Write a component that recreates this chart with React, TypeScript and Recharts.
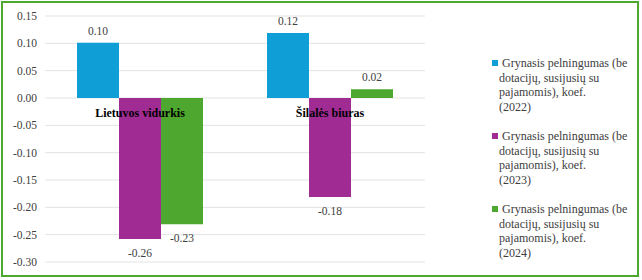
import { Bar, BarChart, CartesianGrid, LabelList, Legend, ReferenceDot, XAxis, YAxis } from 'recharts';

const categories = ['Lietuvos vidurkis', 'Šilalės biuras'];
const values2022 = [0.101, 0.119];
const values2023 = [-0.258, -0.181];
const values2024 = [-0.231, 0.016];
const seriesNames = [
  'Grynasis pelningumas (be dotacijų, susijusių su pajamomis), koef.\n(2022)',
  'Grynasis pelningumas (be dotacijų, susijusių su pajamomis), koef.\n(2023)',
  'Grynasis pelningumas (be dotacijų, susijusių su pajamomis), koef.\n(2024)',
];
const yTicks = [-0.3, -0.25, -0.2, -0.15, -0.1, -0.05, 0, 0.05, 0.1, 0.15];

const COLORS = ['#0F9ED5', '#A02B93', '#4EA72E'];
const FONT = '"Liberation Serif", "Times New Roman", serif';
const TEXT = '#404040';

const data = categories.map((name, i) => ({
  name,
  s2022: values2022[i],
  s2023: values2023[i],
  s2024: values2024[i],
}));

function ValueLabel(props: any) {
  const { x, y, width, height, value } = props;
  const top = Math.min(y, y + height);
  const bottom = Math.max(y, y + height);
  const ty = value >= 0 ? top - 12 : bottom + 14;
  return (
    <text
      x={x + width / 2}
      y={ty}
      textAnchor="middle"
      dominantBaseline="central"
      fontFamily={FONT}
      fontSize={11.5}
      fill={TEXT}
    >
      {Number(value).toFixed(2)}
    </text>
  );
}

function CategoryLabel(props: any) {
  const { viewBox, value } = props;
  return (
    <text
      x={viewBox.x + viewBox.width / 2}
      y={viewBox.y + viewBox.height / 2 + 15}
      textAnchor="middle"
      dominantBaseline="central"
      fontFamily={FONT}
      fontSize={12}
      fontWeight="bold"
      fill="#000"
    >
      {value}
    </text>
  );
}

function LegendContent() {
  return (
    <div style={{ fontFamily: FONT, fontSize: 12, lineHeight: '14.5px', color: TEXT }}>
      {seriesNames.map((n, i) => (
        <div key={i} style={{ whiteSpace: 'pre-line', marginBottom: 15, paddingLeft: 9 }}>
          <span
            style={{
              display: 'inline-block',
              width: 6,
              height: 6,
              background: COLORS[i],
              marginLeft: -7,
              marginRight: 4,
              verticalAlign: 1,
            }}
          />
          {n}
        </div>
      ))}
    </div>
  );
}

export default function App() {
  return (
    <div style={{ position: 'absolute', left: 0, top: 0, width: 642, height: 280, background: '#fff' }}>
      <BarChart
        width={642}
        height={280}
        data={data}
        margin={{ top: 16, right: 217, left: 5, bottom: 18 }}
        barCategoryGap={32}
        barGap={0}
      >
        <CartesianGrid vertical={false} stroke="#e3e3e3" />
        <XAxis dataKey="name" hide />
        <YAxis
          domain={[-0.3, 0.15]}
          ticks={yTicks}
          width={40}
          axisLine={false}
          tickLine={false}
          tickFormatter={(v: number) => v.toFixed(2)}
          tick={{ fontFamily: FONT, fontSize: 11.5, fill: TEXT }}
          interval={0}
        />
        <Legend
          layout="vertical"
          align="center"
          verticalAlign="middle"
          content={<LegendContent />}
          wrapperStyle={{ left: 490, top: 56, width: 146 }}
        />
        <Bar dataKey="s2022" name={seriesNames[0]} fill={COLORS[0]} isAnimationActive={false}>
          <LabelList dataKey="s2022" content={<ValueLabel />} />
        </Bar>
        <Bar dataKey="s2023" name={seriesNames[1]} fill={COLORS[1]} isAnimationActive={false}>
          <LabelList dataKey="s2023" content={<ValueLabel />} />
        </Bar>
        <Bar dataKey="s2024" name={seriesNames[2]} fill={COLORS[2]} isAnimationActive={false}>
          <LabelList dataKey="s2024" content={<ValueLabel />} />
        </Bar>
        {categories.map((c) => (
          <ReferenceDot
            key={c}
            x={c}
            y={0}
            r={1}
            fill="none"
            stroke="none"
            label={<CategoryLabel value={c} />}
          />
        ))}
      </BarChart>
      <div
        style={{
          position: 'absolute',
          left: 1,
          top: 1,
          width: 638,
          height: 276,
          boxSizing: 'border-box',
          border: '2px solid #4EA72E',
          pointerEvents: 'none',
        }}
      />
    </div>
  );
}
